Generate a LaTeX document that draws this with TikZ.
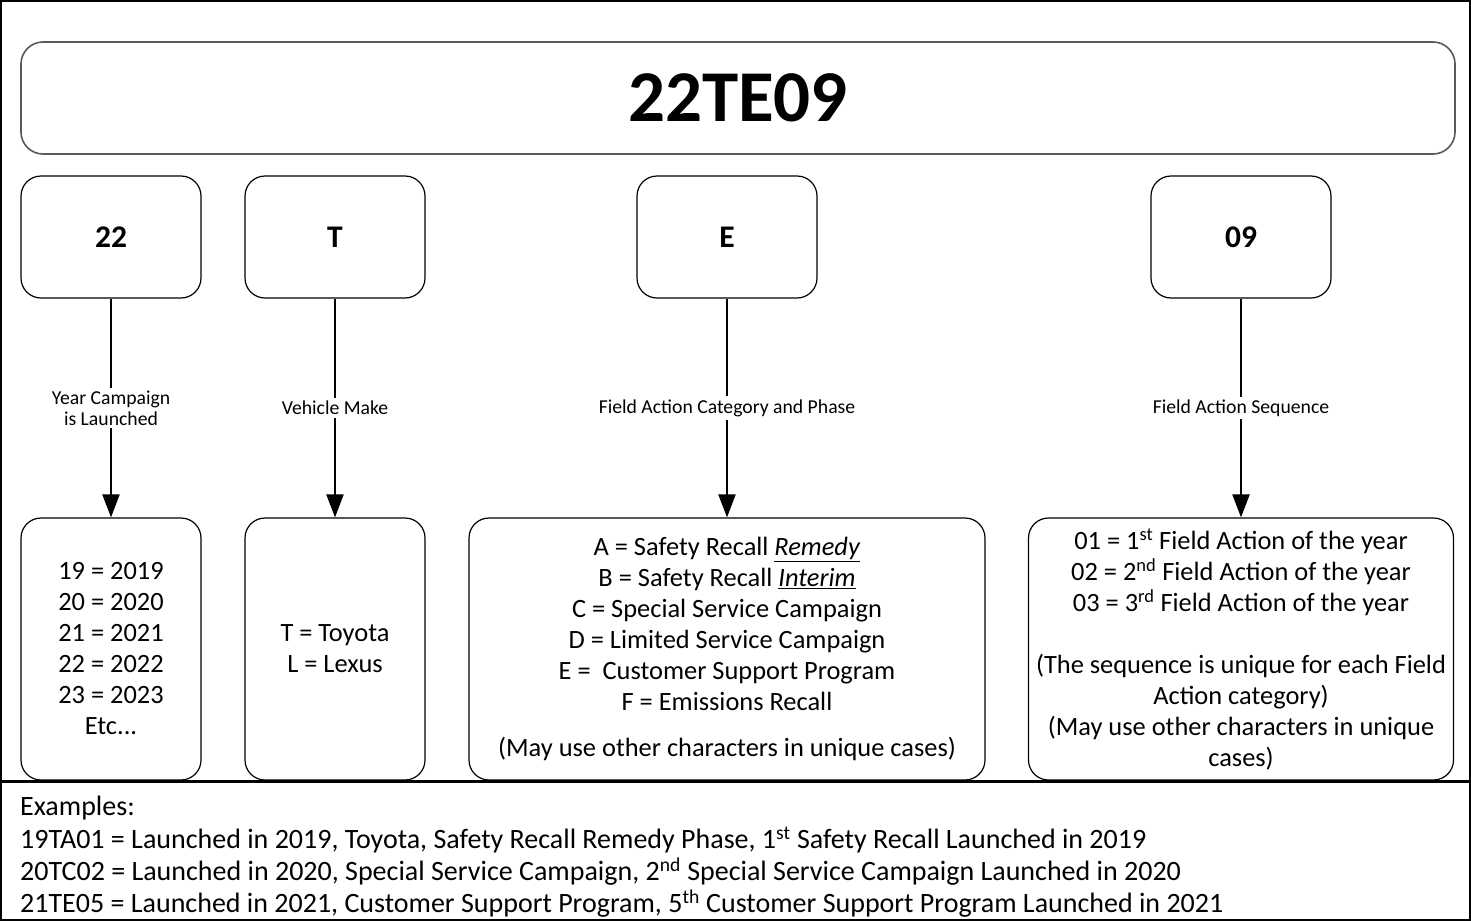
\documentclass[tikz,border=0pt]{standalone}
\usepackage{fontspec}
\setmainfont{Carlito}
\usepackage{tikz}
\usetikzlibrary{arrows.meta}
\pgfdeclarelayer{edgelayer}
\pgfdeclarelayer{nodelayer}
\pgfsetlayers{edgelayer,nodelayer,main}
\tikzset{
	codebox/.style={draw, rounded corners=20pt, line width=1.2pt, minimum width=180pt, minimum height=122pt, inner sep=0pt, font=\fontsize{31.5}{38}\selectfont\bfseries},
	listbox/.style={draw, rounded corners=20pt, line width=1.2pt, minimum width=180pt, minimum height=262pt, inner sep=0pt, align=center, font=\fontsize{26.4}{31}\selectfont},
	fieldarrow/.style={line width=2pt, -{Triangle[length=23pt,width=17pt]}},
	fieldlabel/.style={fill=white, inner sep=3pt, align=center, font=\fontsize{19.7}{21}\selectfont},
}

\begin{document}
\begin{tikzpicture}[x=1pt,y=-1pt]
	\useasboundingbox (0,0) rectangle (1471,921);
	\draw[line width=2.2pt] (1,1) rectangle (1470,920);
	\draw[line width=2.5pt] (0,781.5) -- (1471,781.5);
	\begin{pgfonlayer}{nodelayer}
		\node[draw=black!65, line width=1.6pt, rounded corners=22pt, minimum width=1434pt, minimum height=112pt, font=\fontsize{73}{80}\selectfont\bfseries] (0) at (738,98) {22TE09};
		\node[codebox] (1) at (111,237) {22};
		\node[codebox] (2) at (335,237) {T};
		\node[codebox] (3) at (727,237) {E};
		\node[codebox] (4) at (1241,237) {09};
		\node[listbox] (5) at (111,649) {19 = 2019\\ 20 = 2020\\ 21 = 2021\\ 22 = 2022\\ 23 = 2023\\ Etc...};
		\node[listbox] (6) at (335,649) {T = Toyota\\ L = Lexus};
		\node[listbox, minimum width=516pt] (7) at (727,649) {A = Safety Recall \underline{\textit{Remedy}}\\ B = Safety Recall \underline{\textit{Interim}}\\ C = Special Service Campaign\\ D = Limited Service Campaign\\ E = \ Customer Support Program\\ F = Emissions Recall\\[15pt] (May use other characters in unique cases)};
		\node[listbox, minimum width=425pt] (8) at (1241,649) {01 = 1\textsuperscript{st} Field Action of the year\\ 02 = 2\textsuperscript{nd} Field Action of the year\\ 03 = 3\textsuperscript{rd} Field Action of the year\\[31pt] (The sequence is unique for each Field\\ Action category)\\ (May use other characters in unique\\ cases)};
		\node[anchor=north west, inner sep=0pt, align=left, font=\fontsize{28}{32.4}\selectfont] (9) at (20,796) {Examples:\\ 19TA01 = Launched in 2019, Toyota, Safety Recall Remedy Phase, 1\textsuperscript{st} Safety Recall Launched in 2019\\ 20TC02 = Launched in 2020, Special Service Campaign, 2\textsuperscript{nd} Special Service Campaign Launched in 2020\\ 21TE05 = Launched in 2021, Customer Support Program, 5\textsuperscript{th} Customer Support Program Launched in 2021};
	\end{pgfonlayer}
	\begin{pgfonlayer}{edgelayer}
		\draw[fieldarrow] (1) to node[fieldlabel] {Year Campaign\\ is Launched} (5);
		\draw[fieldarrow] (2) to node[fieldlabel] {Vehicle Make} (6);
		\draw[fieldarrow] (3) to node[fieldlabel] {Field Action Category and Phase} (7);
		\draw[fieldarrow] (4) to node[fieldlabel] {Field Action Sequence} (8);
	\end{pgfonlayer}
\end{tikzpicture}
\end{document}
